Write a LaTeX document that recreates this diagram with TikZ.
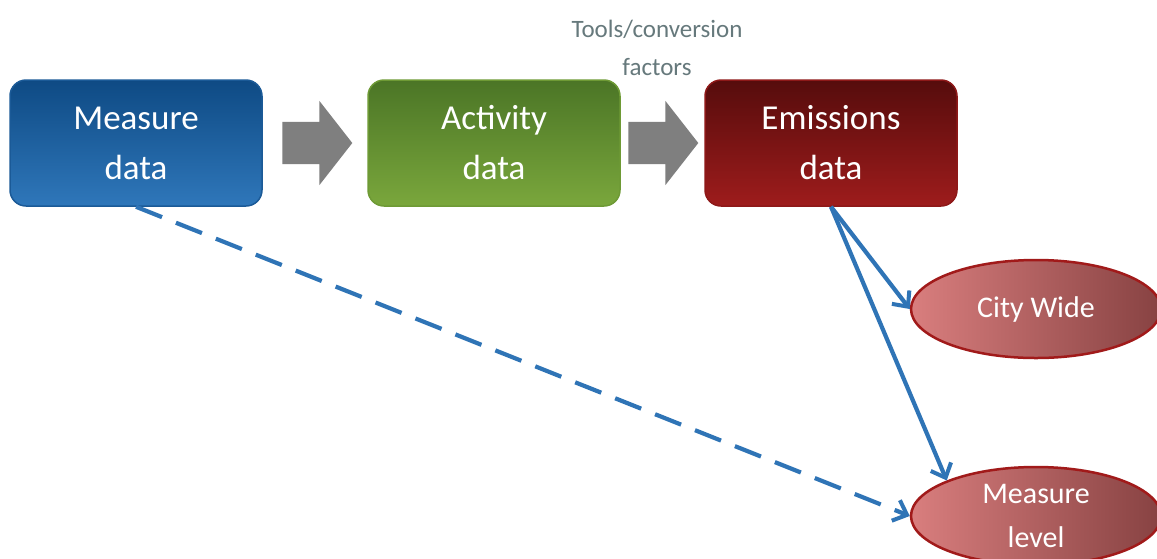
\documentclass[tikz,border=0pt]{standalone}
\usepackage{fontspec}
\setmainfont{Carlito}
\usetikzlibrary{shapes.geometric,shapes.arrows,arrows.meta}
\definecolor{blueT}{HTML}{0E4A84}
\definecolor{blueB}{HTML}{2F77BA}
\definecolor{blueE}{HTML}{1B5A97}
\definecolor{greenT}{HTML}{4B7526}
\definecolor{greenB}{HTML}{7AA73C}
\definecolor{greenE}{HTML}{6E9A35}
\definecolor{redT}{HTML}{560C0C}
\definecolor{redB}{HTML}{9E1C1C}
\definecolor{redE}{HTML}{8E1818}
\definecolor{ellL}{HTML}{D97E7E}
\definecolor{ellR}{HTML}{874242}
\definecolor{ellE}{HTML}{A11A1A}
\definecolor{lineblue}{HTML}{2F74B6}
\definecolor{toolgray}{HTML}{66797C}
\definecolor{arrgray}{HTML}{7F7F7F}
\tikzset{
  databox/.style={draw=#1, line width=1.5pt, rounded corners=16pt, minimum width=252pt, minimum height=126pt,
    text=white, font=\fontsize{35}{50}\selectfont, align=center, inner sep=0pt},
  outell/.style={ellipse, draw=ellE, line width=2.5pt, left color=ellL, right color=ellR,
    minimum width=250pt, minimum height=98pt, text=white, font=\fontsize{30}{44}\selectfont, align=center, inner sep=0pt},
  grayarrow/.style={single arrow, fill=arrgray, draw=none, minimum height=70pt,
    inner xsep=0pt, inner ysep=21pt, single arrow head extend=21pt, single arrow tip angle=104},
  link/.style={draw=lineblue, line width=4.2pt, -{Straight Barb[length=12pt,width=22pt,line width=4pt]}},
}
\begin{document}
\begin{tikzpicture}[x=1pt,y=-1pt]
\clip (0,0) rectangle (1157,558);
\fill[white] (0,0) rectangle (1157,558);
\node[databox=blueE, top color=blueT, bottom color=blueB] (measure) at (136,143) {\raisebox{-3pt}{\parbox{200pt}{\centering Measure\\data}}};
\node[databox=greenE, top color=greenT, bottom color=greenB] (activity) at (494,143) {\raisebox{-3pt}{\parbox{200pt}{\centering Activity\\data}}};
\node[databox=redE, top color=redT, bottom color=redB] (emissions) at (831,143) {\raisebox{-3pt}{\parbox{200pt}{\centering Emissions\\data}}};
\node[grayarrow] (arr1) at (309,143) {};
\node[grayarrow] (arr2) at (655,143) {};
\node[text=toolgray, font=\fontsize{25}{38}\selectfont, align=center] (tools) at (657,48) {Tools/conversion\\factors};
\node[outell] (city) at (1036,309) {City Wide};
\node[outell] (mlevel) at (1036,516) {Measure\\level};
\draw[link] (emissions.south) -- (city.west);
\draw[link] (emissions.south) -- (mlevel.north west);
\draw[link, dash pattern=on 28pt off 15pt] (measure.south) -- (mlevel.west);
\end{tikzpicture}
\end{document}
